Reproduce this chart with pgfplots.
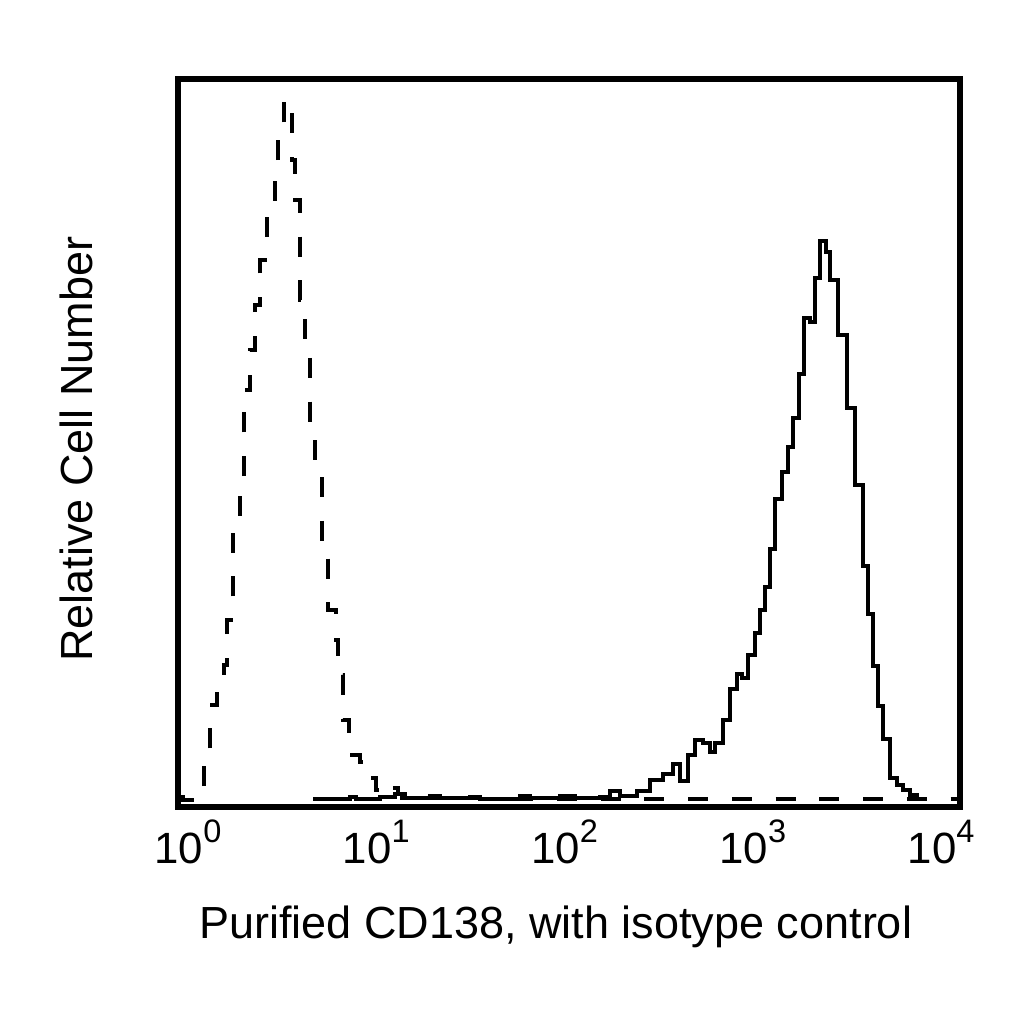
\documentclass[border=0pt]{standalone}
\usepackage{fontspec}
\setmainfont{Liberation Sans}
\usepackage{pgfplots}
\usepackage{pgfplotstable}
\pgfplotsset{compat=1.18}

% x = decade exponent (log10 of intensity), y = relative count
\pgfplotstableread{
x y
-0.058 3
-0.027 0
0.085 45
0.117 95
0.154 110
0.191 135
0.207 180
0.239 270
0.276 315
0.297 410
0.329 450
0.356 495
0.382 540
0.420 585
0.462 630
0.478 675
0.510 700
0.552 640
0.568 600
0.595 500
0.621 460
0.648 380
0.674 330
0.712 250
0.744 190
0.786 160
0.797 125
0.823 80
0.855 45
0.913 38
0.956 22
0.998 10
1.046 6
1.083 12
1.115 6
1.152 3
1.285 2
1.551 1
4.105 1
}\isotype

\pgfplotstableread{
x y
0.664 1
0.860 3
0.892 1
1.020 3
1.099 6
1.136 2
1.285 4
1.338 2
1.498 3
1.551 1
1.763 4
1.816 2
1.976 4
2.055 2
2.188 3
2.241 9
2.294 4
2.385 9
2.454 20
2.523 26
2.576 36
2.613 19
2.655 45
2.693 60
2.735 57
2.772 48
2.799 57
2.841 80
2.878 111
2.916 126
2.942 122
2.974 145
3.011 167
3.038 190
3.064 213
3.091 251
3.117 301
3.155 328
3.186 353
3.213 382
3.245 426
3.271 482
3.303 478
3.330 522
3.356 559
3.388 548
3.409 520
3.452 465
3.500 392
3.542 315
3.585 234
3.611 186
3.638 134
3.664 94
3.691 61
3.728 22
3.765 15
3.797 10
3.834 5
3.871 1
3.898 1
}\cdonethreeeight

\newcommand{\dec}[1]{10\raisebox{0.5em}{\fontsize{13}{15}\selectfont #1}}

\begin{document}
\begin{tikzpicture}
\path[use as bounding box] (0,0) rectangle (409.6pt,409.6pt);
\begin{axis}[
    at={(71.2pt,86.6pt)},
    anchor=south west,
    scale only axis,
    width=312.8pt,
    height=291.4pt,
    xmin=-0.053, xmax=4.1,
    ymin=-7.5, ymax=721,
    axis line style={line width=2.4pt, line cap=rect},
    ytick=\empty,
    xtick={0,1,2,3,4},
    xticklabels={\dec{0},\dec{1},\dec{2},\dec{3},\dec{4}},
    major tick length=0pt,
    xticklabel style={font=\fontsize{17.5}{20}\selectfont, anchor=base, yshift=-22.6pt},
    xlabel={Purified CD138, with isotype control},
    ylabel={Relative Cell Number},
    label style={font=\fontsize{18}{21}\selectfont},
    xlabel style={at={(axis description cs:0.483,-0.1805)}, anchor=base},
    ylabel style={at={(axis description cs:-0.1087,0.492)}, anchor=base, rotate=0},
]
\addplot[const plot, black, line width=1.8pt, dash pattern=on 8pt off 9.5pt] table {\isotype};
\addplot[const plot, black, line width=1.8pt] table {\cdonethreeeight};
\end{axis}
\end{tikzpicture}
\end{document}
